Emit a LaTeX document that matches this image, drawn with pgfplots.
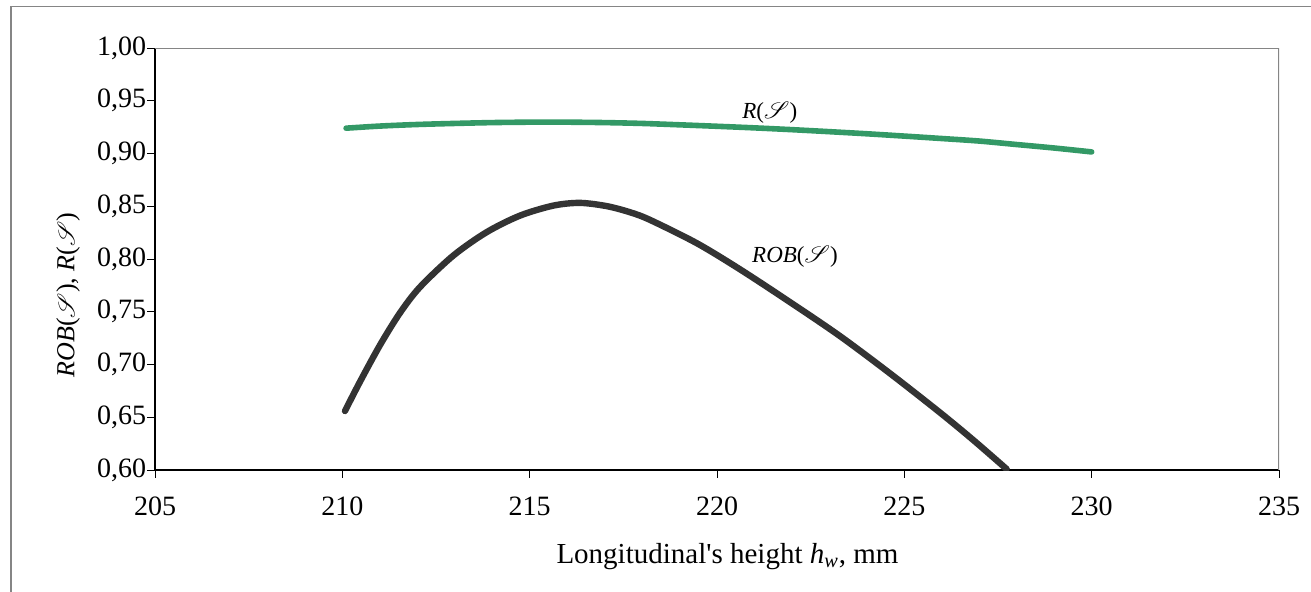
\documentclass[border=0pt]{standalone}
\usepackage{fontspec}
\setmainfont{Liberation Serif}
\usepackage{mathrsfs}
\usepackage{pgfplots}
\pgfplotsset{compat=1.18}
\definecolor{rgreen}{HTML}{339966}
\definecolor{robdark}{HTML}{333333}
\definecolor{framegray}{HTML}{858585}
\newcommand{\Sc}{\ensuremath{\mathscr{S}}}

\begin{document}
\begin{tikzpicture}[x=0.5pt,y=0.5pt]% one unit = one pixel of the reference
\useasboundingbox (0,0) rectangle (1311,591);
\draw[framegray, line width=0.6pt] (11,-5) -- (11,584.3) -- (1320,584.3);

\begin{axis}[at={(77.5pt,60.5pt)}, anchor=south west, scale only axis,
  width=562pt, height=211pt,
  xmin=205, xmax=235, ymin=0.6, ymax=1.0,
  xtick={205,210,...,235}, ytick={0.60,0.65,...,1.00},
  axis x line*=bottom, axis y line*=left,
  axis line style={black, line width=0.6pt},
  tick align=outside, major tick length=3.8pt,
  tick style={black, line width=0.5pt},
  tick label style={font=\fontsize{14}{16}\selectfont},
  /pgf/number format/assume math mode=true,
  yticklabel style={inner xsep=0.5pt, /pgf/number format/.cd, fixed, fixed zerofill, precision=2, use comma},
  xticklabel style={yshift=-6pt},
  clip=true]
\draw[framegray, line width=0.6pt] (rel axis cs:0,1) -- (rel axis cs:1,1) -- (rel axis cs:1,0);

% R(S)
\addplot[rgreen, line width=2.8pt, line cap=round, smooth] coordinates {
  (210.1,0.924) (211,0.926) (212,0.9275) (213,0.9285) (214,0.9293) (215,0.9297)
  (216,0.9297) (217,0.9293) (218,0.9285) (219,0.9272) (220,0.9258) (221,0.9243)
  (222,0.9226) (223,0.9207) (224,0.9187) (225,0.9165) (226,0.9142) (227,0.9118)
  (228,0.9085) (229,0.9052) (230,0.9015)};

% ROB(S)
\addplot[robdark, line width=3.2pt, line cap=round, smooth] coordinates {
  (210.07,0.6559) (210.47,0.6836) (211.01,0.7187) (211.54,0.7490) (212.07,0.7733)
  (212.96,0.8032) (213.85,0.8254) (214.74,0.8411) (215.63,0.8506) (216.34,0.8532)
  (217.06,0.8501) (217.68,0.8443) (218.21,0.8371) (219.46,0.8150) (220.61,0.7903)
  (221.95,0.7591) (223.28,0.7270) (224.62,0.6915) (225.95,0.6545) (226.84,0.6284)
  (227.73,0.6009)};

\node[font=\fontsize{11.5}{13}\selectfont] at (axis cs:221.41,0.9384) {\textit{R}(\Sc)};
\node[font=\fontsize{11.5}{13}\selectfont] at (axis cs:222.08,0.8022) {\textit{ROB}(\Sc)};
\end{axis}

\node[font=\fontsize{14.5}{16}\selectfont] at (727.5,34.3) {Longitudinal\textquotesingle s height \textit{h}\textsubscript{\textit{w}}, mm};
\node[font=\fontsize{13}{15}\selectfont, rotate=90] at (68,296) {\textit{ROB}(\Sc), \textit{R}(\Sc)};
\end{tikzpicture}
\end{document}
